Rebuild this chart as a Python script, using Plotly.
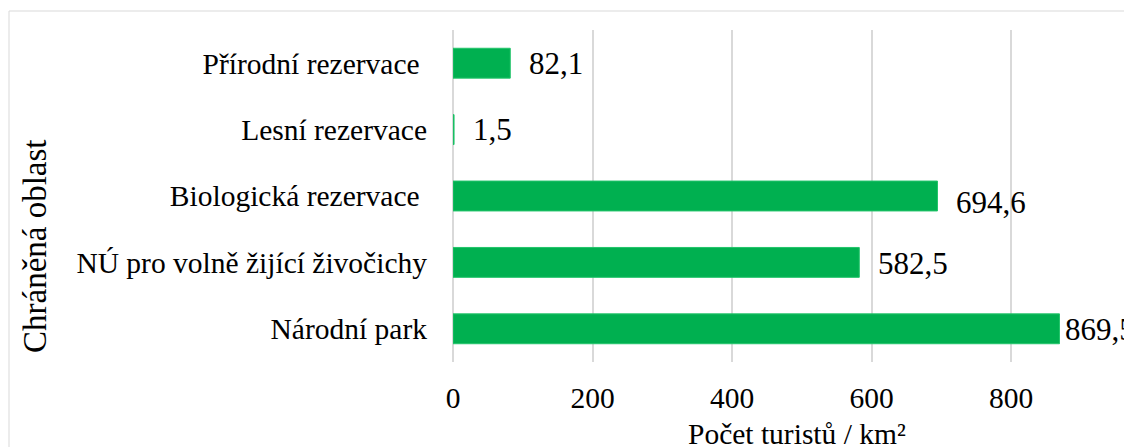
import plotly.graph_objects as go

categories = ["Přírodní rezervace\u00a0", "Lesní rezervace", "Biologická rezervace\u00a0",
              "NÚ pro volně žijící živočichy", "Národní park"]
values = [82.1, 1.5, 694.6, 582.5, 869.5]
x_ticks = [0, 200, 400, 600, 800]
x_title = "Počet turistů / km²"
y_title = "Chráněná oblast"

FONT = "Liberation Serif, Times New Roman, serif"
OFF = 8  # page body margin
W, H = 1132 - OFF, 447 - OFF
L = 453 - OFF
T = 30 - OFF
B = H - (362 - OFF)
px_per_unit = 0.6975
xmax = (W - L) / px_per_unit
pw = W - L
ph = H - T - B


def px_x(page_x):
    return (page_x - OFF - L) / pw


def px_y(page_y):
    return (H - B - (page_y - OFF)) / ph


fig = go.Figure()
fig.add_trace(go.Bar(
    y=categories, x=values, orientation="h",
    marker=dict(color="#00B050", line=dict(color="#22c46a", width=1)),
    width=0.45, hoverinfo="skip",
))

# data labels
xshifts = [17, 17, 17, 17, 4]
yshifts = [0, 0, -6, -1, -1]
for c, v, xs, ys in zip(categories, values, xshifts, yshifts):
    fig.add_annotation(x=v, y=c, xref="x", yref="y", text=f"{v:.1f}".replace(".", ","),
                       showarrow=False, xanchor="left", yanchor="middle",
                       xshift=xs, yshift=ys, font=dict(family=FONT, size=31, color="#000"))

# axis titles
fig.add_annotation(x=px_x(797), y=px_y(434), xref="paper", yref="paper",
                   text=x_title, showarrow=False, xanchor="center", yanchor="middle",
                   font=dict(family=FONT, size=29.5, color="#000"))
fig.add_annotation(x=px_x(35), y=px_y(246), xref="paper", yref="paper",
                   text=y_title, showarrow=False, textangle=-90, xanchor="center", yanchor="middle",
                   font=dict(family=FONT, size=33, color="#000"))

# outer chart border
fig.add_shape(type="rect", xref="paper", yref="paper",
              x0=px_x(9), x1=1.2, y0=-0.6, y1=px_y(11),
              line=dict(color="#d9d9d9", width=1), fillcolor="rgba(0,0,0,0)", layer="below")

fig.update_layout(
    width=W, height=H,
    margin=dict(l=L, r=0, t=T, b=B, pad=0),
    paper_bgcolor="white", plot_bgcolor="white",
    showlegend=False,
    font=dict(family=FONT, size=29.5, color="#000"),
    separators=", ",
    xaxis=dict(range=[0, xmax], tickvals=x_ticks, showgrid=True, gridcolor="#d9d9d9", gridwidth=2,
               zeroline=True, zerolinecolor="#d9d9d9", zerolinewidth=2, showline=False,
               ticks="", ticklabelstandoff=15, tickfont=dict(family=FONT, size=29.5, color="#000"),
               fixedrange=True),
    yaxis=dict(autorange="reversed", showgrid=False, zeroline=False, showline=False, ticks="",
               ticklabelstandoff=25, tickfont=dict(family=FONT, size=29.5, color="#000"),
               fixedrange=True),
)

fig.write_html("out.html", config={"displayModeBar": False})
